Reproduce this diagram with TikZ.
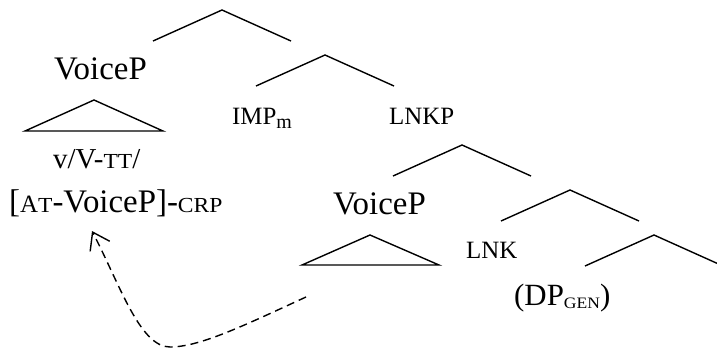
\documentclass[tikz,border=0pt]{standalone}
\usepackage{fontspec}
\setmainfont{Liberation Serif}
\newfontfamily\scfont{Liberation Serif}[FakeStretch=1.1]
\usetikzlibrary{arrows.meta}
% type sizes used in the tree
\newcommand\sizeL{\fontsize{33}{38}\selectfont}
\newcommand\sizeM{\fontsize{29}{33}\selectfont}
\newcommand\sizeS{\fontsize{25}{29}\selectfont}
% imitation small capitals
\newcommand\smcap[1]{{\scfont\fontsize{21.5}{25}\selectfont #1}}
\newcommand\gensub[1]{\raisebox{-3bp}{\scfont\fontsize{16}{19}\selectfont #1}}
\newcommand\msub[1]{\raisebox{-4bp}{\fontsize{20}{23}\selectfont #1}}

\begin{document}
\begin{tikzpicture}[x=1bp,y=-1bp,
  branch/.style={line width=1.4bp, line join=miter},
  lbl/.style={inner sep=0pt, anchor=base west},
  move/.style={line width=1.4bp, dash pattern=on 8bp off 5bp,
    -{Straight Barb[length=16bp,width=22bp,line width=1.4bp]}}]
\useasboundingbox (0,0) rectangle (717,351);
\clip (0,0) rectangle (717,351);

% labels
\node[lbl, font=\sizeL] (voice1) at (54,79) {VoiceP};
\node[lbl, font=\sizeS] (imp) at (232,124) {IMP\msub{m}};
\node[lbl, font=\sizeS] (lnkp) at (389,124) {LNKP};
\node[lbl, font=\sizeM] (vv) at (53,168) {v/V-\smcap{TT}/};
\node[lbl, font=\sizeL] (crp) at (9,212) {[{\fontsize{25}{29}\selectfont A}\smcap{T}-VoiceP]-\smcap{CRP}};
\node[lbl, font=\sizeL] (voice2) at (333,214) {VoiceP};
\node[lbl, font=\sizeS] (lnk) at (466,258) {LNK};
\node[lbl, font=\fontsize{31}{35}\selectfont] (dp) at (514,305) {(DP\gensub{GEN})};

% binary branches: left foot, apex, right foot
\coordinate (r1) at (222,10);  \coordinate (r1l) at (153,41);  \coordinate (r1r) at (291,41);
\coordinate (r2) at (325,55);  \coordinate (r2l) at (256,86);  \coordinate (r2r) at (394,86);
\coordinate (r3) at (462,145); \coordinate (r3l) at (393,176); \coordinate (r3r) at (531,176);
\coordinate (r4) at (570,190); \coordinate (r4l) at (501,221); \coordinate (r4r) at (639,221);
\coordinate (r5) at (654,235); \coordinate (r5l) at (585,266); \coordinate (r5r) at (723,266);
\foreach \n in {r1,r2,r3,r4,r5}
  \draw[branch] (\n l) -- (\n) -- (\n r);

% triangles for unanalysed constituents
\coordinate (t1) at (94,100);  \coordinate (t1l) at (25,131);  \coordinate (t1r) at (163,131);
\coordinate (t2) at (370,235); \coordinate (t2l) at (302,265); \coordinate (t2r) at (439,265);
\draw[branch] (t1l) -- (t1) -- (t1r) -- cycle;
\draw[branch] (t2l) -- (t2) -- (t2r) -- cycle;

% movement arrow
\coordinate (src) at (306,297);
\coordinate (low) at (170,347);
\coordinate (dst) at (92,231);
\draw[move] (src) .. controls (245,325) and (200,347) .. (low)
  .. controls (140,347) and (120,285) .. (dst);
\end{tikzpicture}
\end{document}
